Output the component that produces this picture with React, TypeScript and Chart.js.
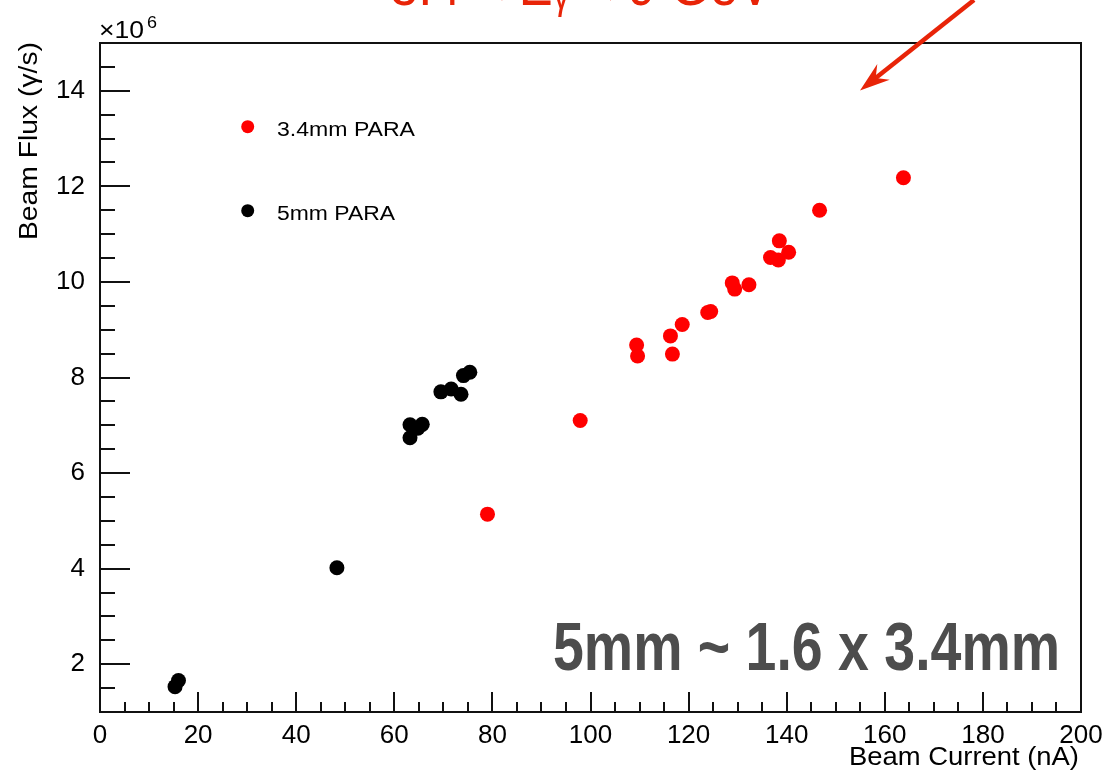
import React, { useEffect, useRef } from 'react';
import { Chart, registerables } from 'chart.js';

Chart.register(...registerables);

// ---- data (beam current in nA, beam flux in units of 10^6 gamma/s) ----
const redLabel = '3.4mm PARA';
const redCurrent = [79.0, 97.9, 109.4, 109.6, 116.3, 116.7, 118.7, 123.9, 124.5, 128.9, 129.4, 132.3, 136.7, 138.3, 138.5, 140.4, 146.7, 163.8];
const redFlux = [5.14, 7.10, 8.68, 8.45, 8.87, 8.49, 9.11, 9.36, 9.38, 9.98, 9.85, 9.94, 10.51, 10.46, 10.86, 10.62, 11.50, 12.18];

const blackLabel = '5mm PARA';
const blackCurrent = [15.3, 16.0, 48.3, 63.2, 63.2, 64.8, 65.7, 69.5, 71.6, 73.6, 74.1, 75.4];
const blackFlux = [1.53, 1.66, 4.02, 6.74, 7.01, 6.94, 7.02, 7.70, 7.76, 7.65, 8.04, 8.11];

const xRange = [0, 200];
const yRange = [1, 15];
const xTickValues = [0, 20, 40, 60, 80, 100, 120, 140, 160, 180, 200];
const yTickValues = [2, 4, 6, 8, 10, 12, 14];
const xMajorStep = 20;
const xMinorStep = 5;
const yMajorStep = 2;
const yMinorStep = 0.5;

const xTitle = 'Beam Current (nA)';
const yTitle = 'Beam Flux (\u03B3/s)';
const annotation = '5mm ~ 1.6 x 3.4mm';
const topTextParts = ['8.4 < E', '\u03B3', ' < 9 GeV'];

const FONT = '"Liberation Sans", Arial, Helvetica, sans-serif';

function drawText(
  ctx: CanvasRenderingContext2D,
  text: string,
  x: number,
  y: number,
  font: string,
  color: string,
  align: 'left' | 'right' | 'center',
  targetWidth?: number
) {
  ctx.save();
  ctx.font = font;
  ctx.fillStyle = color;
  ctx.textBaseline = 'alphabetic';
  ctx.textAlign = 'left';
  const w0 = ctx.measureText(text).width;
  const sx = targetWidth ? targetWidth / w0 : 1;
  const w = w0 * sx;
  const x0 = align === 'left' ? x : align === 'right' ? x - w : x - w / 2;
  ctx.translate(x0, y);
  ctx.scale(sx, 1);
  ctx.fillText(text, 0, 0);
  ctx.restore();
}

const rootStylePlugin = {
  id: 'rootStyle',
  afterDraw(chart: any) {
    const ctx: CanvasRenderingContext2D = chart.ctx;
    const { left, right, top, bottom } = chart.chartArea;
    const xs = chart.scales.x;
    const ys = chart.scales.y;
    ctx.save();

    // frame
    ctx.strokeStyle = '#111';
    ctx.lineWidth = 2;
    ctx.strokeRect(left, top, right - left, bottom - top);

    // x ticks (inward)
    ctx.beginPath();
    for (let v = xRange[0]; v <= xRange[1] + 1e-9; v += xMinorStep) {
      const px = Math.round(xs.getPixelForValue(v));
      const major = Math.abs(v / xMajorStep - Math.round(v / xMajorStep)) < 1e-6;
      const len = major ? 20 : 10;
      ctx.moveTo(px, bottom);
      ctx.lineTo(px, bottom - len);
    }
    // y ticks (inward)
    for (let v = yRange[0]; v <= yRange[1] + 1e-9; v += yMinorStep) {
      if (v <= yRange[0] + 1e-9 || v >= yRange[1] - 1e-9) continue;
      const py = Math.round(ys.getPixelForValue(v));
      const major = Math.abs(v / yMajorStep - Math.round(v / yMajorStep)) < 1e-6;
      const len = major ? 30 : 15;
      ctx.moveTo(left, py);
      ctx.lineTo(left + len, py);
    }
    ctx.stroke();

    // axis titles
    drawText(ctx, xTitle, right - 2, 765, `25px ${FONT}`, '#000', 'right', 230);
    ctx.save();
    ctx.translate(37, top - 1);
    ctx.rotate(-Math.PI / 2);
    drawText(ctx, yTitle, 0, 0, `26px ${FONT}`, '#000', 'right', 198);
    ctx.restore();

    // x10^6 multiplier
    drawText(ctx, '\u00D710', left - 1, 38, `24px ${FONT}`, '#000', 'left', 45);
    drawText(ctx, '6', left + 47, 28, `16px ${FONT}`, '#000', 'left', 10);

    // legend
    const legend = [
      { label: redLabel, color: '#ff0000', y: 126.7, w: 138 },
      { label: blackLabel, color: '#000000', y: 210.7, w: 118 },
    ];
    for (const item of legend) {
      ctx.beginPath();
      ctx.fillStyle = item.color;
      ctx.arc(247.7, item.y, 6.5, 0, Math.PI * 2);
      ctx.fill();
      drawText(ctx, item.label, 277, item.y + 9, `20px ${FONT}`, '#000', 'left', item.w);
    }

    // big annotation
    drawText(ctx, annotation, 553, 670, `bold 68px ${FONT}`, '#4d4d4d', 'left', 507);

    // red text at the very top (mostly cut off)
    ctx.save();
    ctx.font = `60px ${FONT}`;
    const w1 = ctx.measureText(topTextParts[0]).width;
    const w3 = ctx.measureText(topTextParts[2]).width;
    ctx.font = `40px ${FONT}`;
    const w2 = ctx.measureText(topTextParts[1]).width;
    ctx.restore();
    const total = w1 + w2 + w3;
    const sx = 382 / total;
    const red = 'rgb(232,36,8)';
    drawText(ctx, topTextParts[0], 390, 5, `60px ${FONT}`, red, 'left', w1 * sx);
    drawText(ctx, topTextParts[1], 390 + w1 * sx, 9, `40px ${FONT}`, red, 'left', w2 * sx);
    drawText(ctx, topTextParts[2], 390 + (w1 + w2) * sx, 5, `60px ${FONT}`, red, 'left', w3 * sx);

    // red arrow
    const tip = { x: 860, y: 90.5 };
    const start = { x: 974, y: 0 };
    const dx = start.x - tip.x;
    const dy = start.y - tip.y;
    const L = Math.hypot(dx, dy);
    const ux = dx / L;
    const uy = dy / L;
    ctx.strokeStyle = red;
    ctx.lineWidth = 4.5;
    ctx.beginPath();
    ctx.moveTo(start.x, start.y);
    ctx.lineTo(tip.x + ux * 18, tip.y + uy * 18);
    ctx.stroke();
    const headLen = 30;
    const headW = 10;
    const bx = tip.x + ux * headLen;
    const by = tip.y + uy * headLen;
    const nx = -uy;
    const ny = ux;
    ctx.fillStyle = red;
    ctx.beginPath();
    ctx.moveTo(tip.x, tip.y);
    ctx.lineTo(bx + nx * headW, by + ny * headW);
    ctx.lineTo(tip.x + ux * 20, tip.y + uy * 20);
    ctx.lineTo(bx - nx * headW, by - ny * headW);
    ctx.closePath();
    ctx.fill();

    ctx.restore();
  },
};

export default function App() {
  const canvasRef = useRef<HTMLCanvasElement | null>(null);

  useEffect(() => {
    const canvas = canvasRef.current;
    if (!canvas) return;
    const chart = new Chart(canvas, {
      type: 'scatter',
      data: {
        datasets: [
          {
            label: blackLabel,
            data: blackCurrent.map((x, i) => ({ x, y: blackFlux[i] })),
            backgroundColor: '#000000',
            borderWidth: 0,
            pointRadius: 7.5,
          },
          {
            label: redLabel,
            data: redCurrent.map((x, i) => ({ x, y: redFlux[i] })),
            backgroundColor: '#ff0000',
            borderWidth: 0,
            pointRadius: 7.5,
          },
        ],
      },
      options: {
        responsive: false,
        animation: false,
        devicePixelRatio: 1,
        layout: { padding: { top: 43, right: 29, left: 0, bottom: 0 } },
        plugins: {
          legend: { display: false },
          tooltip: { enabled: false },
          title: { display: false },
        },
        scales: {
          x: {
            type: 'linear',
            position: 'bottom',
            min: xRange[0],
            max: xRange[1],
            grid: { display: false },
            border: { display: false },
            ticks: {
              color: '#000',
              padding: 0,
              font: { family: FONT, size: 26 },
              maxRotation: 0,
              autoSkip: false,
            },
            afterBuildTicks: (scale: any) => {
              scale.ticks = xTickValues.map((value) => ({ value }));
            },
            afterFit: (scale: any) => {
              scale.height = 62;
            },
          },
          y: {
            type: 'linear',
            position: 'left',
            min: yRange[0],
            max: yRange[1],
            grid: { display: false },
            border: { display: false },
            ticks: {
              color: '#000',
              padding: 7,
              font: { family: FONT, size: 26 },
              autoSkip: false,
            },
            afterBuildTicks: (scale: any) => {
              scale.ticks = yTickValues.map((value) => ({ value }));
            },
            afterFit: (scale: any) => {
              scale.width = 100;
            },
          },
        },
      },
      plugins: [rootStylePlugin],
    });
    return () => chart.destroy();
  }, []);

  return (
    <div style={{ position: 'absolute', left: 0, top: 0, width: 1110, height: 774, background: '#fff' }}>
      <canvas ref={canvasRef} width={1110} height={774} style={{ display: 'block', width: 1110, height: 774 }} />
    </div>
  );
}
